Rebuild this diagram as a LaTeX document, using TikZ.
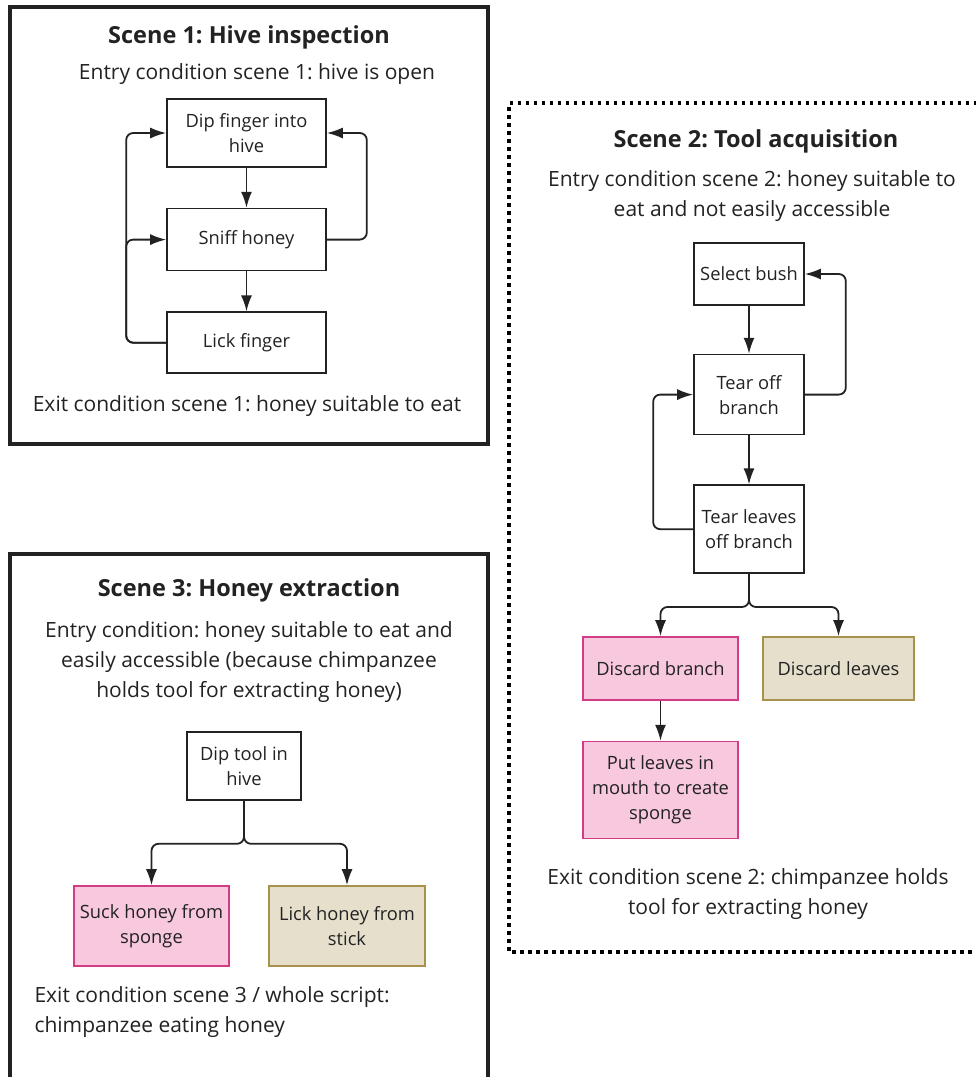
\documentclass[tikz,border=0pt]{standalone}
\usepackage{fontspec}
\setmainfont{Open Sans}
\usepackage{tikz}
\usetikzlibrary{arrows.meta,positioning}
\definecolor{ink}{HTML}{222222}
\definecolor{pinkfill}{HTML}{F7C8DE}
\definecolor{pinkline}{HTML}{D23C87}
\definecolor{tanfill}{HTML}{E6DFCC}
\definecolor{tanline}{HTML}{A8914A}
\frenchspacing

\begin{document}
\begin{tikzpicture}[
  x=1pt, y=-1pt,
  font=\fontsize{21}{30}\selectfont,
  frame/.style={draw=ink, line width=4pt},
  dotframe/.style={draw=black, line width=3.5pt, dash pattern=on 3.5pt off 4.5pt},
  title/.style={font=\fontsize{23.5}{30}\selectfont\bfseries, text=ink},
  cond/.style={align=center, text=ink},
  act/.style={draw=ink, line width=1.6pt, fill=white, align=center, inner sep=2pt,
    font=\fontsize{18.3}{25}\selectfont, text=ink},
  sponge/.style={act, draw=pinkline, fill=pinkfill},
  stick/.style={act, draw=tanline, fill=tanfill},
  flow/.style={-{Latex[length=16pt,width=11pt]}, line width=1.8pt, draw=ink, rounded corners=7pt}
]
\useasboundingbox (0,0) rectangle (976,1077);
\clip (0,0) rectangle (976,1077);

% scene frames
\draw[frame] (10,7) rectangle (488,444);
\draw[dotframe] (977,103) -- (509,103) -- (509,952) -- (977,952);
\draw[frame] (10,554) rectangle (488,1100);

% scene 1
\node[title] (t1) at (249,37) {Scene 1: Hive inspection};
\node[cond] (in1) at (257,74) {Entry condition scene 1: hive is open};
\node[act, minimum width=159pt, minimum height=68pt] (dip) at (246.5,133) {Dip finger into\\hive};
\node[act, minimum width=159pt, minimum height=62pt, below=40pt of dip] (sniff) {Sniff honey};
\node[act, minimum width=159pt, minimum height=61pt, below=40pt of sniff] (lick) {Lick finger};
\node[cond] (out1) at (247,406) {Exit condition scene 1: honey suitable to eat};

\draw[flow] (dip) -- (sniff);
\draw[flow] (sniff) -- (lick);
\draw[flow] (lick.west) -- ++(-40,0) |- (dip.west);
\draw[flow] (lick.west) -- ++(-40,0) |- (sniff.west);
\draw[flow] (sniff.east) -- ++(40,0) |- (dip.east);

% scene 2
\node[title] (t2) at (756,141) {Scene 2: Tool acquisition};
\node[cond] (in2) at (752,196) {Entry condition scene 2: honey suitable to\\eat and not easily accessible};
\node[act, minimum width=110pt, minimum height=62pt] (bush) at (749,274) {Select bush};
\node[act, minimum width=110pt, minimum height=80pt, below=48pt of bush] (branch) {Tear off\\branch};
\node[act, minimum width=110pt, minimum height=88pt, below=49pt of branch] (leaves) {Tear leaves\\off branch};
\node[sponge, minimum width=155pt, minimum height=63pt] (dbranch) at (660.5,668.5) {Discard branch};
\node[stick, minimum width=151pt, minimum height=63pt] (dleaves) at (838.5,668.5) {Discard leaves};
\node[sponge, minimum width=155pt, minimum height=97pt, below=40pt of dbranch] (mouth) {Put leaves in\\mouth to create\\sponge};
\node[cond] (out2) at (748,894) {Exit condition scene 2: chimpanzee holds\\tool for extracting honey};

\draw[flow] (bush) -- (branch);
\draw[flow] (branch) -- (leaves);
\draw[flow] (branch.east) -- ++(41,0) |- (bush.east);
\draw[flow] (leaves.west) -- ++(-40,0) |- (branch.west);
\draw[flow] (leaves.south) |- ++(0,33) -| (dbranch.north);
\draw[flow] (leaves.south) |- ++(0,33) -| (dleaves.north);
\draw[flow] (dbranch) -- (mouth);

% scene 3
\node[title] (t3) at (249,590) {Scene 3: Honey extraction};
\node[cond] (in3) at (249,662) {Entry condition: honey suitable to eat and\\easily accessible (because chimpanzee\\holds tool for extracting honey)};
\node[act, minimum width=114pt, minimum height=68pt] (tool) at (244,766) {Dip tool in\\hive};
\node[sponge, minimum width=155pt, minimum height=80pt] (suck) at (151.5,926) {Suck honey from\\sponge};
\node[stick, minimum width=156pt, minimum height=80pt] (lickstick) at (347,926) {Lick honey from\\stick};
\node[cond, align=left, anchor=west] (out3) at (31,1012) {Exit condition scene 3 / whole script:\\chimpanzee eating honey};

\draw[flow] (tool.south) -- ++(0,43) -| (suck.north);
\draw[flow] (tool.south) -- ++(0,43) -| (lickstick.north);
\end{tikzpicture}
\end{document}
